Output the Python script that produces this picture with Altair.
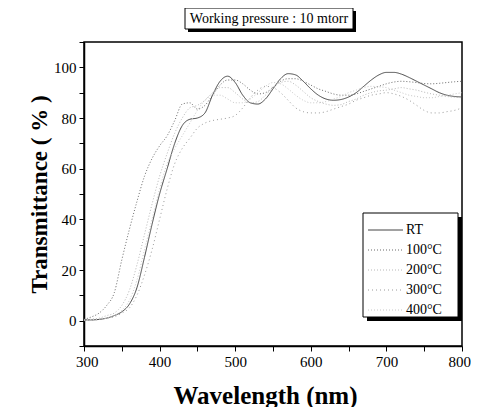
import altair as alt
import pandas as pd

# ---------------- data ----------------
wavelength = list(range(300, 801, 10))
series_names = ["RT", "100°C", "200°C", "300°C", "400°C"]

t_rt = [0.3, 0.3, 0.5, 1.0, 2.0, 3.5, 6.5, 13, 25, 38, 50,
        60, 70, 77, 79.5, 80, 82, 89, 94.5, 96.5, 94,
        89, 86, 85.5, 87.5, 91.5, 95.5, 97.5, 97, 94.5, 91.5,
        89, 87.5, 87, 87.3, 88.3, 90, 92.5, 95, 97, 98,
        98, 97.3, 96, 94.5, 93, 91.5, 90, 89, 88.5, 88.3]
t_100 = [0.5, 1.5, 3, 6, 11, 24, 36, 47, 57, 64, 69,
         73, 79, 85.5, 86, 83.5, 85, 89, 93, 95, 95,
         93.5, 91, 89.5, 90, 92, 94.5, 95.5, 95.5, 94.5, 93,
         91.5, 90.5, 89.5, 89, 89, 89.5, 90.5, 91.5, 92.5, 93.5,
         94.2, 94.5, 94.3, 94, 93.6, 93.5, 93.7, 94, 94.3, 94.5]
t_200 = [0.3, 0.6, 1, 2, 3, 6, 12, 22, 34, 46, 57,
         66, 74, 80, 84, 85, 87, 90, 92, 92, 90,
         87.5, 86, 86.5, 89, 92, 94, 94.5, 93, 90.5, 88,
         86.5, 85.5, 85, 85.3, 86.5, 87.5, 89, 90, 90.7, 91,
         91.5, 92, 91.5, 91, 90.2, 89.5, 89, 88.5, 88.2, 88]
t_300 = [0, 0.2, 0.5, 1, 1.5, 3, 5, 10, 18, 28, 40,
         52, 62, 68, 72, 76, 78, 79, 79.5, 80, 81,
         84, 88, 91, 92.5, 92, 90, 87, 84, 82.5, 82,
         82, 82.5, 83.5, 84.5, 85.5, 87, 88, 89, 89.5, 90,
         89.5, 88.5, 87, 85, 83, 82, 82, 82.5, 83, 84]
t_400 = [0.2, 0.4, 0.6, 1, 2, 4, 8, 16, 28, 40, 52,
         62, 68, 73, 78, 83, 87, 89, 89, 87.5, 86,
         86, 87.5, 90, 92.5, 94, 93.5, 91.5, 89, 87, 86,
         86, 86.5, 87.5, 88.5, 90, 91, 92, 92.5, 92.3, 92,
         91, 90, 89, 88.5, 88, 88, 88.5, 89, 89.5, 90]
series_values = [t_rt, t_100, t_200, t_300, t_400]

x_ticks = list(range(300, 801, 50))
y_ticks = list(range(-10, 111, 10))
title_text = "Working pressure : 10 mtorr"
x_title = "Wavelength (nm)"
y_title = "Transmittance ( % )"

# ---------------- styles ----------------
colors = ["#454545", "#6a6a6a", "#b8b8b8", "#9a9a9a", "#c8c8c8"]
dashes = [[1, 0], [1, 2], [1, 2], [1, 3], [1, 2]]
FONT = "Liberation Serif"

rows = []
for name, vals in zip(series_names, series_values):
    for w, t in zip(wavelength, vals):
        rows.append({"wavelength": w, "T": t, "sample": name})
df = pd.DataFrame(rows)

lines = alt.Chart(df).mark_line(strokeWidth=1, interpolate="monotone").encode(
    x=alt.X("wavelength:Q",
            scale=alt.Scale(domain=[300, 800], nice=False, zero=False),
            axis=alt.Axis(values=x_ticks, format="d",
                          labelFlush=True, labelFlushOffset=8.5,
                          labelExpr="datum.value % 100 == 0 ? datum.label : ''",
                          title=x_title, titlePadding=14, titleX=181,
                          titleFontSize=25)),
    y=alt.Y("T:Q",
            scale=alt.Scale(domain=[-10, 110], nice=False, zero=False),
            axis=alt.Axis(values=y_ticks, format="d", labelFlush=False,
                          labelExpr="datum.value % 20 == 0 ? datum.label : ''",
                          title=y_title, titlePadding=2, titleFontSize=23)),
    color=alt.Color("sample:N", scale=alt.Scale(domain=series_names, range=colors), legend=None),
    strokeDash=alt.StrokeDash("sample:N", scale=alt.Scale(domain=series_names, range=dashes), legend=None),
)

one = pd.DataFrame({"a": [0]})

# title box
title_shadow = alt.Chart(one).mark_rect(color="black").encode(
    x=alt.value(104), x2=alt.value(272), y=alt.value(-31), y2=alt.value(-10))
title_box = alt.Chart(one).mark_rect(fill="white", stroke="black", strokeWidth=1).encode(
    x=alt.value(101), x2=alt.value(269), y=alt.value(-34), y2=alt.value(-13))
title_txt = alt.Chart(one).mark_text(font=FONT, fontSize=14, color="black",
                                     align="center", baseline="middle").encode(
    x=alt.value(185), y=alt.value(-23), text=alt.value(title_text))

# legend
leg_shadow = alt.Chart(one).mark_rect(color="black").encode(
    x=alt.value(283), x2=alt.value(378), y=alt.value(175), y2=alt.value(279))
leg_box = alt.Chart(one).mark_rect(fill="white", stroke="black", strokeWidth=1).encode(
    x=alt.value(279), x2=alt.value(374), y=alt.value(171), y2=alt.value(275))

leg_layers = []
for i, name in enumerate(series_names):
    d = pd.DataFrame({"sample": [name]})
    yy = 188 + i * 20
    leg_layers.append(alt.Chart(d).mark_rule(strokeWidth=1).encode(
        x=alt.value(284), x2=alt.value(319), y=alt.value(yy),
        color=alt.value(colors[i]), strokeDash=alt.value(dashes[i])))
    leg_layers.append(alt.Chart(d).mark_text(font=FONT, fontSize=14, color="black",
                                             align="left", baseline="middle").encode(
        x=alt.value(322), y=alt.value(yy), text="sample:N"))

chart = alt.layer(lines, leg_shadow, leg_box, *leg_layers,
                  title_shadow, title_box, title_txt).properties(
    width=378, height=304,
    autosize=alt.AutoSizeParams(type="none"),
    padding={"left": 76, "top": 34, "right": 9, "bottom": 61},
).configure_view(
    stroke="black", strokeWidth=1.5
).configure_axis(
    grid=False, domainColor="black", domainWidth=1.5,
    tickColor="black", tickSize=5, tickWidth=1,
    labelFont=FONT, labelFontSize=15, labelColor="black", labelPadding=3,
    titleFont=FONT, titleFontSize=20, titleFontWeight="bold", titleColor="black",
)

chart.save("out.html", embed_options={"renderer": "svg", "actions": False})
